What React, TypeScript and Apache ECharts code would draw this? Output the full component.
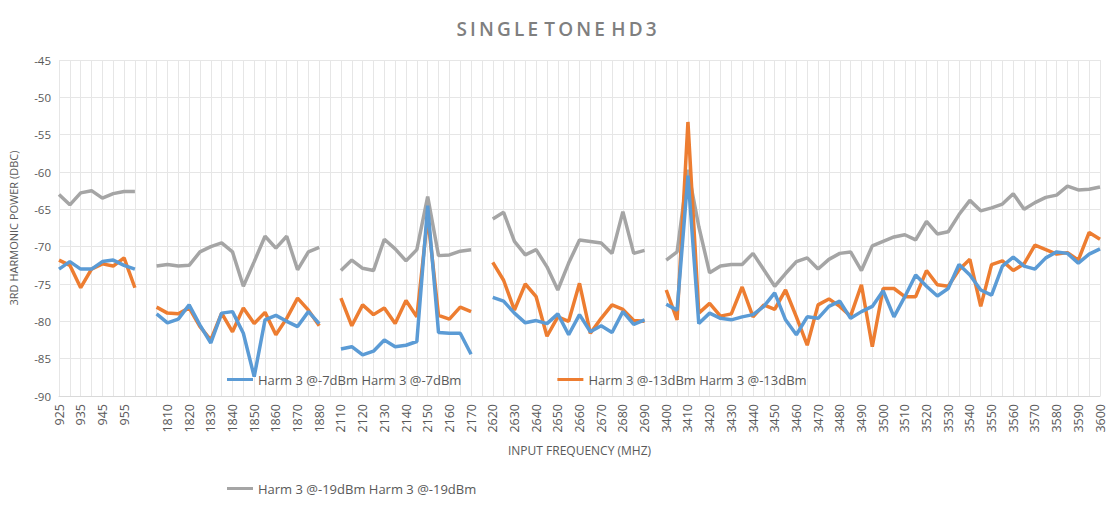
import React, { useEffect, useRef } from "react";
import * as echarts from "echarts";

// frequency groups (MHz); blank strings are the gaps between bands
const band1 = ["925", "930", "935", "940", "945", "950", "955", "960"];
const band2 = ["1805", "1810", "1815", "1820", "1825", "1830", "1835", "1840", "1845", "1850", "1855", "1860", "1865", "1870", "1875", "1880"];
const band3 = ["2110", "2115", "2120", "2125", "2130", "2135", "2140", "2145", "2150", "2155", "2160", "2165", "2170"];
const band4 = ["2620", "2625", "2630", "2635", "2640", "2645", "2650", "2655", "2660", "2665", "2670", "2675", "2680", "2685", "2690"];
const band5 = [
  "3400", "3405", "3410", "3415", "3420", "3425", "3430", "3435", "3440", "3445", "3450", "3455", "3460", "3465",
  "3470", "3475", "3480", "3485", "3490", "3495", "3500", "3505", "3510", "3515", "3520", "3525", "3530", "3535",
  "3540", "3545", "3550", "3555", "3560", "3565", "3570", "3575", "3580", "3585", "3590", "3595", "3600",
];
const categories = [...band1, "", ...band2, "", ...band3, "", ...band4, "", ...band5];

const harm7 = {
  b1: [-73, -72, -73, -73, -72, -71.8, -72.5, -73],
  b2: [-79.0, -80.2, -79.7, -77.8, -80.5, -82.9, -78.9, -78.7, -81.6, -87.4, -79.8, -79.2, -80.0, -80.7, -78.7, -80.3],
  b3: [-83.7, -83.4, -84.5, -84.0, -82.5, -83.4, -83.2, -82.7, -64.5, -81.5, -81.6, -81.6, -84.4],
  b4: [-76.8, -77.3, -78.9, -80.2, -79.9, -80.3, -79.0, -81.8, -79.1, -81.4, -80.6, -81.5, -78.7, -80.4, -79.8],
  b5: [
    -77.7, -78.5, -60.5, -80.3, -78.9, -79.6, -79.8, -79.4, -79.1, -78.0, -76.2, -79.8, -81.8, -79.4, -79.6, -78.0,
    -77.3, -79.6, -78.7, -78.0, -75.9, -79.4, -76.7, -73.8, -75.3, -76.6, -75.6, -72.4, -73.8, -75.8, -76.5, -72.6,
    -71.4, -72.6, -73.0, -71.5, -70.7, -70.9, -72.2, -71.0, -70.3,
  ],
};
const harm13 = {
  b1: [-71.8, -72.5, -75.5, -73, -72.3, -72.6, -71.5, -75.5],
  b2: [-78.1, -78.9, -79.0, -78.2, -80.7, -82.5, -78.9, -81.4, -78.2, -80.3, -78.8, -81.8, -79.6, -76.9, -78.5, -80.6],
  b3: [-76.9, -80.6, -77.8, -79.1, -78.2, -80.3, -77.2, -79.4, -66.0, -79.2, -79.7, -78.1, -78.7],
  b4: [-72.1, -74.5, -78.5, -75.0, -76.7, -82.0, -79.4, -80.0, -74.9, -81.6, -79.6, -77.8, -78.4, -79.9, -80.0],
  b5: [
    -75.8, -79.8, -53.3, -78.9, -77.6, -79.3, -79.0, -75.4, -79.4, -77.8, -78.4, -75.8, -79.4, -83.2, -77.8, -77.0,
    -78.0, -79.3, -75.1, -83.4, -75.6, -75.6, -76.7, -76.7, -73.2, -75.1, -75.3, -73.1, -71.7, -78.0, -72.4, -71.9,
    -73.2, -72.3, -69.8, -70.4, -71.0, -70.8, -71.8, -68.1, -69.0,
  ],
};
const harm19 = {
  b1: [-63, -64.4, -62.8, -62.5, -63.5, -62.9, -62.6, -62.6],
  b2: [-72.6, -72.4, -72.6, -72.5, -70.7, -70.0, -69.5, -70.7, -75.3, -72.0, -68.6, -70.2, -68.6, -73.1, -70.7, -70.1],
  b3: [-73.2, -71.8, -72.9, -73.2, -69.0, -70.3, -71.9, -70.4, -63.3, -71.2, -71.1, -70.6, -70.4],
  b4: [-66.3, -65.4, -69.3, -71.1, -70.4, -72.7, -75.8, -72.2, -69.1, -69.3, -69.5, -70.9, -65.3, -70.9, -70.5],
  b5: [
    -71.8, -70.7, -59.7, -67.3, -73.5, -72.6, -72.4, -72.4, -70.9, -73.1, -75.3, -73.6, -72.0, -71.5, -73.0, -71.7,
    -70.9, -70.7, -73.2, -69.9, -69.3, -68.7, -68.4, -69.1, -66.6, -68.3, -68.0, -65.7, -63.8, -65.2, -64.8, -64.3,
    -62.9, -65.0, -64.1, -63.4, -63.1, -61.9, -62.4, -62.3, -62.0,
  ],
};

const seriesNames = [
  "Harm 3 @-7dBm Harm 3 @-7dBm",
  "Harm 3 @-13dBm Harm 3 @-13dBm",
  "Harm 3 @-19dBm Harm 3 @-19dBm",
];
const colors = ["#5b9bd5", "#ed7d31", "#a5a5a5"];

const join = (s: typeof harm7) => [...s.b1, null, ...s.b2, null, ...s.b3, null, ...s.b4, null, ...s.b5];

const App: React.FC = () => {
  const chartRef = useRef<HTMLDivElement>(null);

  useEffect(() => {
    if (!chartRef.current) return;
    document.body.style.margin = "0";
    const chart = echarts.init(chartRef.current, undefined, { renderer: "svg" });
    const font = "'Open Sans', 'Liberation Sans', sans-serif";
    const option: echarts.EChartsOption = {
      animation: false,
      backgroundColor: "#ffffff",
      textStyle: { fontFamily: font },
      color: colors,
      title: {
        text: "S I N G L E  T O N E  H D 3".replace(/ /g, "\u2009"),
        left: "center",
        top: 14,
        textStyle: { color: "#7f7f7f", fontSize: 19, fontWeight: 600, fontFamily: font },
      },
      legend: {
        bottom: 16,
        left: 222,
        itemGap: 96,
        itemWidth: 26,
        itemHeight: 3,
        icon: "rect",
        textStyle: { color: "#595959", fontSize: 13 },
        data: seriesNames,
      },
      grid: { left: 57, right: 13, top: 60, bottom: 120 },
      xAxis: {
        type: "category",
        data: categories,
        boundaryGap: false,
        name: "INPUT FREQUENCY (MHZ)",
        nameLocation: "middle",
        nameGap: 48,
        nameTextStyle: { color: "#595959", fontSize: 12 },
        axisLine: { lineStyle: { color: "#d9d9d9" } },
        axisTick: { show: false },
        axisLabel: { interval: 1, rotate: 90, color: "#595959", fontSize: 12.5, margin: 8 },
        splitLine: { show: true, interval: 0, lineStyle: { color: "#e6e6e6" } },
      },
      yAxis: {
        type: "value",
        min: -90,
        max: -45,
        interval: 5,
        name: "3RD HARMONIC POWER (DBC)",
        nameLocation: "middle",
        nameGap: 40,
        nameTextStyle: { color: "#595959", fontSize: 11 },
        axisLine: { show: false },
        axisTick: { show: false },
        axisLabel: { color: "#595959", fontSize: 11.5 },
        splitLine: { lineStyle: { color: "#e6e6e6" } },
      },
      series: [harm7, harm13, harm19].map((s, i) => ({
        name: seriesNames[i],
        type: "line" as const,
        data: join(s),
        showSymbol: false,
        connectNulls: false,
        lineStyle: { width: 3.5, color: colors[i] },
        z: 3 - i,
      })),
    };
    chart.setOption(option);
    return () => chart.dispose();
  }, []);

  return <div ref={chartRef} style={{ width: 1113, height: 516 }} />;
};

export default App;
